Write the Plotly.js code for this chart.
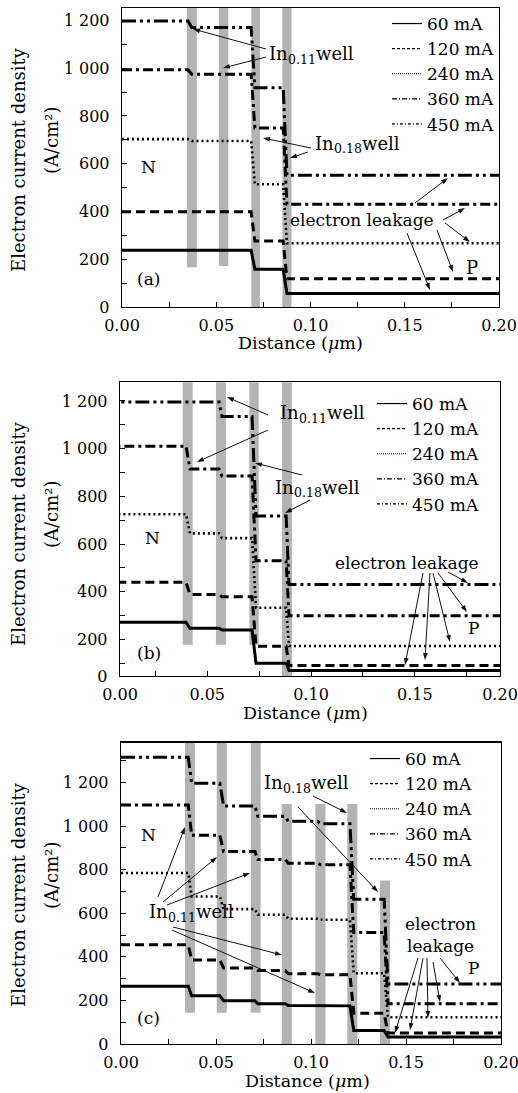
<!DOCTYPE html>
<html><head><meta charset="utf-8">
<script src="https://cdn.plot.ly/plotly-3.0.1.min.js"></script>
<style>html,body{margin:0;padding:0;background:#fff}#chart{width:518px;height:1093px}</style>
</head><body><div id="chart"></div>
<script>
// ---------------- DATA ----------------
const currents = ['60 mA', '120 mA', '240 mA', '360 mA', '450 mA'];

// Panel (a): transition positions (start/end of each drop, µm) and plateau values (A/cm2)
const aEdges = [[0.035, 0.037], [0.0685, 0.0705], [0.0855, 0.0875]];
const a60  = [238, 238, 158, 57];
const a120 = [399, 399, 276, 118];
const a240 = [703, 695, 514, 267];
const a360 = [993, 975, 750, 430];
const a450 = [1198, 1170, 918, 552];
const aWellStart  = [0.0344, 0.0514, 0.0686, 0.0851];
const aWellEnd    = [0.0397, 0.0564, 0.0732, 0.0899];
const aWellBottom = [166, 172, 0, 0];

// Panel (b)
const bEdges = [[0.0398, 0.0417], [0.0557, 0.0571], [0.0716, 0.0735], [0.088, 0.0894]];
const b60  = [272, 247, 240, 100, 70];
const b120 = [440, 389, 379, 172, 91];
const b240 = [725, 645, 625, 333, 173];
const b360 = [1010, 915, 885, 530, 300];
const b450 = [1195, 1195, 1135, 718, 431];
const bWellStart  = [0.0382, 0.0542, 0.0703, 0.0860];
const bWellEnd    = [0.0430, 0.0590, 0.0748, 0.0908];
const bWellBottom = [178, 178, 178, 47];

// Panel (c)
const cEdges = [[0.0354, 0.0372], [0.052, 0.054], [0.0705, 0.072], [0.0865, 0.088],
                [0.1035, 0.105], [0.1205, 0.1225], [0.1385, 0.1405]];
const c60  = [265, 222, 199, 185, 177, 175, 62, 32];
const c120 = [455, 386, 349, 337, 322, 318, 141, 50];
const c240 = [785, 677, 619, 593, 575, 570, 325, 123];
const c360 = [1097, 958, 884, 847, 830, 823, 512, 185];
const c450 = [1316, 1197, 1093, 1045, 1022, 1011, 664, 275];
const cWellStart  = [0.0337, 0.0504, 0.0683, 0.0846, 0.1023, 0.1191, 0.1363];
const cWellEnd    = [0.0389, 0.0557, 0.0735, 0.0899, 0.1076, 0.1244, 0.1416];
const cWellBottom = [144, 144, 144, 0, 0, 0, 0];
const cWellTop    = [1383, 1383, 1383, 1102, 1102, 1102, 751];

// axis ranges and ticks
const aXRange = [0, 0.2],       aYRange = [0, 1252];
const bXRange = [0.008, 0.191], bYRange = [47, 1278];
const cXRange = [0, 0.2],       cYRange = [0, 1383];
const xTickText = ['0.00', '0.05', '0.10', '0.15', '0.20'];
const xMinor = [0.025, 0.075, 0.125, 0.175];
const yTickText = ['0', '200', '400', '600', '800', '1 000', '1 200'];
const yMajor = [200, 400, 600, 800, 1000, 1200];
const yMinor = [100, 300, 500, 700, 900, 1100, 1300];

// ---------------- BUILD ----------------
const W = 518, H = 1093;
const FONT = 'DejaVu Serif';
const styles = [
  {dash: 'solid', width: 3},
  {dash: '9px,5px', width: 3},
  {dash: '2px,3px', width: 2.6},
  {dash: '10px,4px,3px,4px', width: 3},
  {dash: '14px,4px,3px,4px,3px,4px', width: 3}
];
const legendDash = ['solid', '3px,2px', '1px,1px', '5px,2px,1px,2px', '3px,2px,1px,2px'];

function steps(edges, vals, xmax) {
  const xs = [0], ys = [vals[0]];
  for (let i = 0; i < edges.length; i++) {
    xs.push(edges[i][0]); ys.push(vals[i]);
    xs.push(edges[i][1]); ys.push(vals[i + 1]);
  }
  xs.push(xmax); ys.push(vals[vals.length - 1]);
  return {x: xs, y: ys};
}

const traces = [];
function addPanel(edges, series, xa, ya, leg, tag) {
  series.forEach((vals, i) => {
    const s = steps(edges, vals, 0.2);
    traces.push({
      type: 'scatter', mode: 'lines', x: s.x, y: s.y, xaxis: xa, yaxis: ya,
      name: currents[i], showlegend: false,
      line: {color: '#000', dash: styles[i].dash, width: styles[i].width},
      hoverinfo: 'skip'
    });
  });
  // legend entries (thin sample lines, as in the reference legend)
  currents.forEach((c, i) => {
    traces.push({
      type: 'scatter', mode: 'lines', x: [null], y: [null], xaxis: xa, yaxis: ya,
      name: c, legend: leg, legendgroup: tag + i, showlegend: true,
      line: {color: '#000', dash: legendDash[i], width: 1.2}, hoverinfo: 'skip'
    });
  });
}
addPanel(aEdges, [a60, a120, a240, a360, a450], 'x', 'y', 'legend', 'a');
addPanel(bEdges, [b60, b120, b240, b360, b450], 'x2', 'y2', 'legend2', 'b');
addPanel(cEdges, [c60, c120, c240, c360, c450], 'x3', 'y3', 'legend3', 'c');

const shapes = [];
function wells(starts, ends, bottoms, tops, xr, yr) {
  starts.forEach((s, i) => {
    shapes.push({type: 'rect', xref: xr, yref: yr, x0: s, x1: ends[i],
      y0: bottoms[i], y1: tops[i], fillcolor: '#b3b3b3', line: {width: 0}, layer: 'below'});
  });
}
wells(aWellStart, aWellEnd, aWellBottom, aWellStart.map(() => aYRange[1]), 'x', 'y');
wells(bWellStart, bWellEnd, bWellBottom, bWellStart.map(() => bYRange[1]), 'x2', 'y2');
wells(cWellStart, cWellEnd, cWellBottom, cWellTop, 'x3', 'y3');

const minorBase = {ticks: 'inside', ticklen: 5, tickwidth: 1, tickcolor: '#000', showgrid: false};
const axBase = {
  showline: true, mirror: true, linecolor: '#000', linewidth: 1.3,
  ticks: 'inside', ticklen: 5, tickwidth: 1, tickcolor: '#000',
  showgrid: false, zeroline: false, fixedrange: true, ticklabeloverflow: 'allow',
  tickfont: {family: FONT, size: 16, color: '#000'}
};
function xax(dom, range, anchor) {
  return Object.assign({}, axBase, {domain: dom, range: range, anchor: anchor,
    ticklabelstandoff: 3, tickmode: 'array',
    tickvals: [range[0], 0.05, 0.1, 0.15, range[1]], ticktext: xTickText,
    minor: Object.assign({tickmode: 'array', tickvals: xMinor}, minorBase)});
}
function yax(dom, range, anchor) {
  return Object.assign({}, axBase, {domain: dom, range: range, anchor: anchor,
    ticklabelstandoff: 8, tickmode: 'array',
    tickvals: [range[0]].concat(yMajor), ticktext: yTickText,
    minor: Object.assign({tickmode: 'array', tickvals: yMinor}, minorBase)});
}

// text measurement for composed labels (base text + lowered small text)
const ctx = document.createElement('canvas').getContext('2d');
function measure(t, size) { ctx.font = size + 'px "' + FONT + '"'; return ctx.measureText(t).width; }

const ann = [];
function textAt(text, x, cy, size, anchor, angle) {
  ann.push({xref: 'paper', yref: 'paper', x: x / W, y: 1 - cy / H, text: text,
    showarrow: false, xanchor: anchor, yanchor: 'middle', textangle: angle || 0,
    borderpad: 0, borderwidth: 0,
    font: {family: FONT, size: size, color: '#000'}});
}
function label(text, cx, cy, size, angle) { textAt(text, cx, cy, size, 'center', angle); }
// "In" + subscript composition + "well"
function wellLabel(sub, cx, cy) {
  const s1 = 18, s2 = 12.5;
  const w1 = measure('In', s1), w2 = measure(sub, s2), w3 = measure('well', s1);
  const x0 = cx - (w1 + w2 + w3) / 2;
  textAt('In', x0, cy, s1, 'left');
  textAt(sub, x0 + w1 + 0.5, cy + 6, s2, 'left');
  textAt('well', x0 + w1 + w2 + 1, cy, s1, 'left');
}
// arrows drawn as a thin line plus a filled triangular head (paper coordinates)
function arrow(tx, ty, hx, hy) {
  const dx = hx - tx, dy = hy - ty, len = Math.hypot(dx, dy);
  const ux = dx / len, uy = dy / len, nx = -uy, ny = ux;
  const L = 7, w = 2.4;
  const bx = hx - L * ux, by = hy - L * uy;
  const P = (x, y) => (x / W).toFixed(5) + ',' + (1 - y / H).toFixed(5);
  shapes.push({type: 'line', xref: 'paper', yref: 'paper',
    x0: tx / W, y0: 1 - ty / H, x1: (hx - 0.6 * L * ux) / W, y1: 1 - (hy - 0.6 * L * uy) / H,
    line: {color: '#111', width: 1}});
  shapes.push({type: 'path', xref: 'paper', yref: 'paper',
    path: 'M' + P(hx, hy) + 'L' + P(bx + w * nx, by + w * ny) + 'L' + P(bx - w * nx, by - w * ny) + 'Z',
    fillcolor: '#111', line: {width: 0}});
}

// Panel (a) texts
wellLabel('0.11', 311, 53);
arrow(266, 49, 193, 29); arrow(266, 57, 223, 68);
wellLabel('0.18', 357, 143);
arrow(311, 148, 263, 138); arrow(308, 152, 290, 158);
label('N', 148, 167, 17);
label('P', 472, 267, 18);
label('(a)', 148, 279, 17);
label('electron leakage', 362, 220, 17);
arrow(415, 203, 448, 178); arrow(443, 220, 465, 208); arrow(445, 223, 470, 242);
arrow(437, 230, 453, 272); arrow(407, 233, 430, 290);
label('Distance (<i>μ</i>m)', 300, 343, 17.5);
label('Electron current density', 18, 160, 18, -90);
label('(A/cm²)', 51, 141, 18, -90);

// Panel (b) texts
wellLabel('0.11', 322, 413);
arrow(268, 415, 227, 397); arrow(268, 430, 197, 462);
wellLabel('0.18', 317, 487);
arrow(302, 475, 255, 463); arrow(310, 500, 285, 513);
label('N', 152, 538, 17);
label('P', 473, 628, 17);
label('(b)', 149, 653, 17);
label('electron leakage', 407, 563, 17);
arrow(448, 572, 468, 583); arrow(438, 573, 467, 612); arrow(433, 573, 450, 642);
arrow(430, 573, 425, 660); arrow(423, 573, 405, 665);
label('Distance (<i>μ</i>m)', 305, 713, 17.5);
label('Electron current density', 18, 534, 18, -90);
label('(A/cm²)', 51, 515, 18, -90);

// Panel (c) texts
wellLabel('0.18', 306, 782);
arrow(313, 796, 347, 813); arrow(298, 807, 378, 892);
wellLabel('0.11', 191, 911);
arrow(158, 897, 185, 827); arrow(163, 902, 217, 857); arrow(167, 905, 250, 873);
arrow(173, 927, 282, 955); arrow(172, 930, 315, 993);
label('N', 148, 835, 17);
label('electron<br>leakage', 440, 935, 17);
label('P', 473, 968, 17);
label('(c)', 148, 1018, 17);
arrow(440, 958, 460, 983); arrow(433, 962, 440, 1002); arrow(427, 958, 428, 1018);
arrow(423, 958, 410, 1030); arrow(418, 958, 395, 1033);
label('Distance (<i>μ</i>m)', 307, 1081, 17.5);
label('Electron current density', 18, 895, 18, -90);
label('(A/cm²)', 51, 876, 18, -90);

function legendAt(xpx, ypx) {
  return {x: xpx / W, y: 1 - ypx / H, xanchor: 'left', yanchor: 'top',
    bgcolor: 'rgba(0,0,0,0)', borderwidth: 0, itemwidth: 30, traceorder: 'grouped',
    tracegroupgap: 0, font: {family: FONT, size: 17, color: '#000'}};
}

const layout = {
  width: W, height: H, margin: {l: 0, r: 0, t: 0, b: 0},
  paper_bgcolor: '#fff', plot_bgcolor: 'rgba(0,0,0,0)', showlegend: true,
  xaxis:  xax([122 / W, 499 / W], aXRange, 'y'),
  yaxis:  yax([1 - 307 / H, 1 - 8 / H], aYRange, 'x'),
  xaxis2: xax([120 / W, 500 / W], bXRange, 'y2'),
  yaxis2: yax([1 - 676 / H, 1 - 382.3 / H], bYRange, 'x2'),
  xaxis3: xax([121 / W, 501 / W], cXRange, 'y3'),
  yaxis3: yax([1 - 1044 / H, 1 - 742.7 / H], cYRange, 'x3'),
  legend:  legendAt(387, 6),
  legend2: legendAt(372, 386),
  legend3: legendAt(365, 741),
  shapes: shapes, annotations: ann
};
Plotly.newPlot('chart', traces, layout, {displayModeBar: false, staticPlot: true});
</script></body></html>
